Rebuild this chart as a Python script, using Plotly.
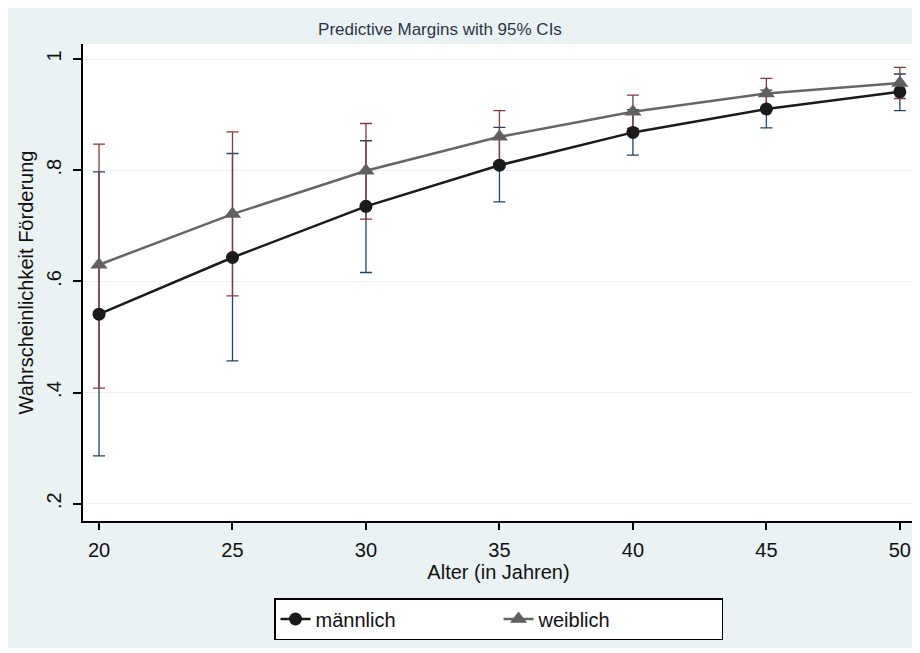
import plotly.graph_objects as go

# ---- data ----
alter = [20, 25, 30, 35, 40, 45, 50]
maennlich = [0.541, 0.643, 0.735, 0.809, 0.868, 0.910, 0.941]
maennlich_lo = [0.286, 0.457, 0.616, 0.743, 0.827, 0.876, 0.907]
maennlich_hi = [0.797, 0.830, 0.853, 0.877, 0.909, 0.944, 0.973]
weiblich = [0.630, 0.721, 0.799, 0.860, 0.905, 0.938, 0.957]
weiblich_lo = [0.408, 0.574, 0.712, 0.813, 0.875, 0.910, 0.929]
weiblich_hi = [0.847, 0.869, 0.884, 0.907, 0.935, 0.965, 0.985]
ytick_vals = [0.2, 0.4, 0.6, 0.8, 1.0]
ytick_text = [".2", ".4", ".6", ".8", "1"]
xtick_vals = [20, 25, 30, 35, 40, 45, 50]

BG = "#EAF2F3"
NAVY = "#1a476f"
MAROON = "#90353b"
FONT = "Liberation Sans, Arial, sans-serif"

fig = go.Figure()

# CI traces (drawn first, behind the lines)
fig.add_trace(go.Scatter(
    x=alter, y=maennlich, mode="markers",
    marker=dict(size=1, color="rgba(0,0,0,0)"),
    error_y=dict(type="data", symmetric=False,
                 array=[h - m for h, m in zip(maennlich_hi, maennlich)],
                 arrayminus=[m - l for m, l in zip(maennlich, maennlich_lo)],
                 color=NAVY, thickness=1.3, width=6),
    showlegend=False, hoverinfo="skip"))
fig.add_trace(go.Scatter(
    x=alter, y=weiblich, mode="markers",
    marker=dict(size=1, color="rgba(0,0,0,0)"),
    error_y=dict(type="data", symmetric=False,
                 array=[h - m for h, m in zip(weiblich_hi, weiblich)],
                 arrayminus=[m - l for m, l in zip(weiblich, weiblich_lo)],
                 color=MAROON, thickness=1.3, width=6),
    showlegend=False, hoverinfo="skip"))

# Lines with markers
fig.add_trace(go.Scatter(
    x=alter, y=maennlich, mode="lines+markers", name="männlich",
    line=dict(color="#1a1a1a", width=2.5),
    marker=dict(symbol="circle", size=13, color="#1a1a1a")))
fig.add_trace(go.Scatter(
    x=alter, y=weiblich, mode="lines+markers", name="weiblich",
    line=dict(color="#666666", width=2.5),
    marker=dict(symbol="triangle-up", size=15, color="#606060")))

# figure geometry (page is offset by the 8px body margin)
W, H = 909, 640
L, R, T, B = 75, 906, 36, 513
ph = B - T

fig.update_layout(
    width=W, height=H,
    margin=dict(l=L, r=W - R, t=T, b=H - B, pad=0),
    paper_bgcolor=BG,
    plot_bgcolor="white",
    font=dict(family=FONT, color="#111111"),
    title=dict(text="Predictive Margins with 95% CIs", xref="container",
               x=432 / W, xanchor="center", yref="container", y=1 - 21.5 / H,
               yanchor="middle", font=dict(size=17, color="#2a3547", family=FONT)),
    xaxis=dict(range=[19.4, 50.53], tickvals=xtick_vals,
               ticks="outside", ticklen=7, tickwidth=1.5, tickcolor="black",
               showline=True, linecolor="black", linewidth=2,
               showgrid=False, zeroline=False, ticklabelstandoff=3,
               tickfont=dict(size=20, color="#111111"),
               title=dict(text="Alter (in Jahren)", font=dict(size=20), standoff=5)),
    yaxis=dict(range=[0.169, 1.027], tickvals=ytick_vals, ticktext=ytick_text,
               tickangle=-90,
               ticks="outside", ticklen=8, tickwidth=1.5, tickcolor="black",
               showline=True, linecolor="black", linewidth=2,
               showgrid=True, gridcolor=BG, gridwidth=1.2, zeroline=False,
               ticklabelstandoff=4,
               tickfont=dict(size=20, color="#111111"),
               title=dict(text="Wahrscheinlichkeit Förderung", font=dict(size=20),
                          standoff=4)),
    legend=dict(orientation="h", xanchor="center", x=0.5,
                yanchor="top", y=(B - 590) / ph,
                bgcolor="white", bordercolor="black", borderwidth=1.5,
                font=dict(size=20, color="#111111"),
                entrywidth=178, traceorder="normal"),
)

fig.write_html("out.html")
